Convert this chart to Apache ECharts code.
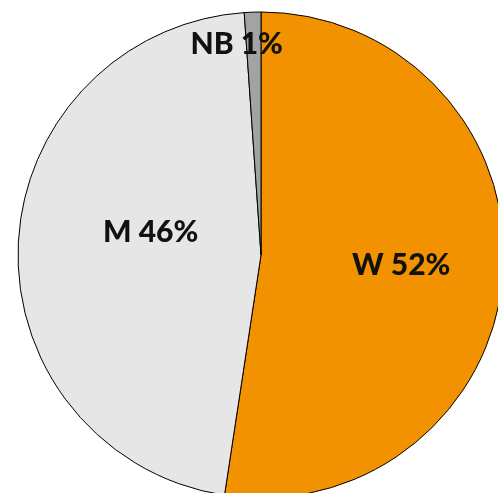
<!DOCTYPE html>
<html lang="de">
<head>
    <meta charset="UTF-8">
    <title>Pie</title>
    <script src="https://cdn.jsdelivr.net/npm/echarts@6/dist/echarts.min.js"></script>
    <style>
        html, body { margin: 0; padding: 0; background: #fff; }
    </style>
</head>
<body>
        <div id="main" style="width: 498px;height:493px;"></div>
        <script type="text/javascript">
            // data
            var names = ['W', 'M', 'NB'];
            var values = [52.4, 46.5, 1.1];
            var shownPct = [52, 46, 1];
            var colors = ['#F39200', '#E6E6E6', '#A3A3A3'];
            // nudge the labels to where the original puts them
            var labelOffsets = [[16, 1], [14, -18], [-20, -86]];

            var myChart = echarts.init(document.getElementById('main'));
            var option = {
                animation: false,
                backgroundColor: '#fff',
                series : [
                    {
                        type: 'pie',
                        center: [261, 255],
                        radius: 243,
                        startAngle: 90,
                        clockwise: true,
                        avoidLabelOverlap: false,
                        itemStyle: {
                            borderColor: '#000',
                            borderWidth: 1
                        },
                        label: {
                            show: true,
                            position: 'inside',
                            color: '#111',
                            fontFamily: 'Lato',
                            fontWeight: 900,
                            fontSize: 30,
                            formatter: function (p) {
                                return p.name + ' ' + shownPct[p.dataIndex] + '%';
                            }
                        },
                        labelLine: { show: false },
                        emphasis: { disabled: true },
                        data: names.map(function (n, i) {
                            return {
                                name: n,
                                value: values[i],
                                itemStyle: { color: colors[i] },
                                label: { offset: labelOffsets[i] }
                            };
                        })
                    }
                ]
            };
            myChart.setOption(option);
        </script>
</body>
</html>
